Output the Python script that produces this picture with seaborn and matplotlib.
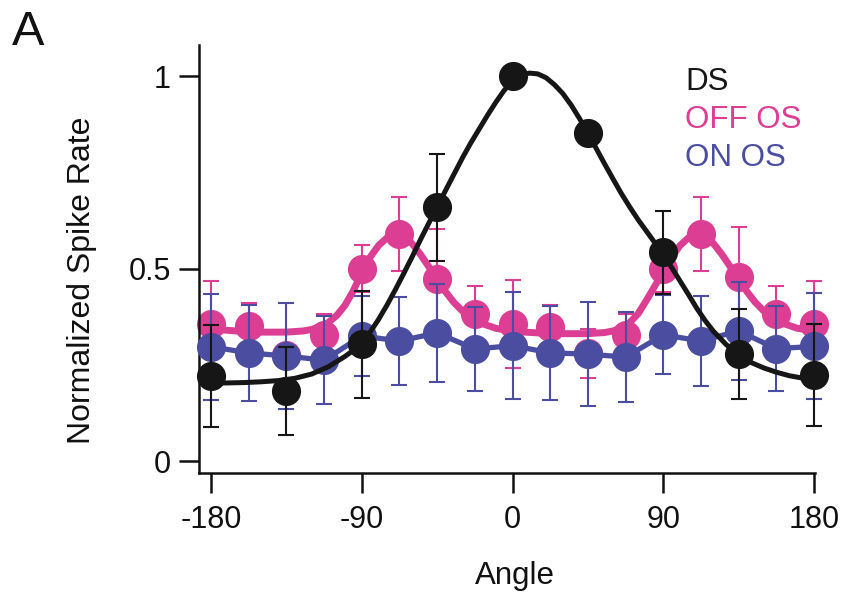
import matplotlib
matplotlib.use("Agg")
import matplotlib.pyplot as plt
import seaborn as sns
import pandas as pd

# ---------------- data ----------------
angles_ds = [-180, -135, -90, -45, 0, 45, 90, 135, 180]
ds_mean = [0.221, 0.182, 0.303, 0.659, 1.000, 0.852, 0.542, 0.278, 0.224]
ds_err = [0.133, 0.115, 0.140, 0.138, 0.000, 0.015, 0.107, 0.118, 0.133]

angles_os = [-180, -157.5, -135, -112.5, -90, -67.5, -45, -22.5, 0,
             22.5, 45, 67.5, 90, 112.5, 135, 157.5, 180]
off_mean = [0.356, 0.352, 0.275, 0.328, 0.500, 0.590, 0.474, 0.383, 0.356,
            0.349, 0.280, 0.328, 0.500, 0.590, 0.477, 0.383, 0.356]
off_err = [0.113, 0.058, 0.065, 0.055, 0.062, 0.095, 0.130, 0.073, 0.114,
           0.057, 0.064, 0.055, 0.062, 0.095, 0.130, 0.073, 0.113]
on_mean = [0.297, 0.281, 0.273, 0.262, 0.325, 0.312, 0.333, 0.291, 0.300,
           0.281, 0.278, 0.270, 0.328, 0.312, 0.338, 0.292, 0.298]
on_err = [0.138, 0.124, 0.137, 0.115, 0.103, 0.115, 0.127, 0.110, 0.139,
          0.123, 0.135, 0.117, 0.103, 0.116, 0.127, 0.110, 0.138]

# fitted curves
fit_ds_x = [-180, -170, -160, -150, -140, -130, -120, -110, -100, -95, -90,
            -85, -80, -75, -70, -65, -60, -55, -50, -45, -40, -35, -30, -25,
            -20, -15, -10, -5, 0, 5, 10, 15, 20, 25, 30, 35, 40, 45, 50, 55,
            60, 65, 70, 75, 80, 85, 90, 95, 100, 105, 110, 115, 120, 127.5,
            135, 142.5, 150, 157.5, 165, 172.5, 180]
fit_ds_y = [0.203, 0.203, 0.204, 0.206, 0.209, 0.215, 0.226, 0.245, 0.272,
            0.288, 0.307, 0.335, 0.368, 0.405, 0.445, 0.487, 0.530, 0.575,
            0.618, 0.660, 0.703, 0.745, 0.787, 0.826, 0.862, 0.898, 0.932,
            0.963, 0.988, 1.002, 1.008, 1.006, 0.996, 0.978, 0.955, 0.925,
            0.890, 0.852, 0.812, 0.772, 0.733, 0.695, 0.660, 0.627, 0.597,
            0.567, 0.536, 0.503, 0.468, 0.433, 0.397, 0.365, 0.337, 0.303,
            0.276, 0.256, 0.242, 0.231, 0.222, 0.216, 0.213]
fit_off_x = [-180, -165, -150, -135, -125, -120, -115, -110, -105, -100, -95,
             -90, -85, -80, -75, -70, -65, -60, -55, -50, -45, -40, -35, -30,
             -25, -20, -10, 0, 15, 30, 45, 55, 60, 65, 70, 75, 80, 85, 90, 95,
             100, 105, 110, 115, 120, 125, 130, 135, 140, 145, 150, 155, 160,
             170, 180]
fit_off_y = [0.343, 0.338, 0.335, 0.335, 0.338, 0.342, 0.349, 0.360, 0.378,
             0.405, 0.443, 0.490, 0.530, 0.560, 0.580, 0.590, 0.585, 0.565,
             0.537, 0.505, 0.472, 0.440, 0.412, 0.390, 0.373, 0.360, 0.345,
             0.337, 0.333, 0.331, 0.331, 0.334, 0.338, 0.346, 0.360, 0.383,
             0.418, 0.455, 0.492, 0.530, 0.560, 0.580, 0.590, 0.585, 0.565,
             0.537, 0.505, 0.474, 0.440, 0.412, 0.390, 0.373, 0.360, 0.345,
             0.338]

series_names = ["DS", "OFF OS", "ON OS"]
x_ticks = [-180, -90, 0, 90, 180]
y_ticks = [0, 0.5, 1]
y_tick_labels = ["0", "0.5", "1"]

# ---------------- style ----------------
sns.set_style("ticks")
plt.rcParams["font.family"] = ["Liberation Sans", "DejaVu Sans"]

BLACK = "#161616"
PINK = "#DC3E93"
BLUE = "#4A4DA0"

fig = plt.figure(figsize=(8.41, 5.94), dpi=100)
ax = fig.add_axes([199 / 841, 1 - 473 / 594, (815 - 199) / 841, (473 - 45) / 594])

df_off_fit = pd.DataFrame({"x": fit_off_x, "y": fit_off_y})
df_ds_fit = pd.DataFrame({"x": fit_ds_x, "y": fit_ds_y})
df_on = pd.DataFrame({"x": angles_os, "y": on_mean})
df_off = pd.DataFrame({"x": angles_os, "y": off_mean})
df_ds = pd.DataFrame({"x": angles_ds, "y": ds_mean})

msize = 440
ek = dict(fmt="none", elinewidth=1.5, capsize=5.8, capthick=1.5)

# OFF OS (bottom layer)
sns.lineplot(data=df_off_fit, x="x", y="y", color=PINK, linewidth=5.0, ax=ax,
             zorder=1)
sns.scatterplot(data=df_off, x="x", y="y", color=PINK, s=msize, linewidth=0,
                ax=ax, zorder=2)
ax.errorbar(angles_os, off_mean, yerr=off_err, ecolor=PINK, zorder=3, **ek)

# ON OS
sns.lineplot(data=df_on, x="x", y="y", color=BLUE, linewidth=3.8, ax=ax,
             zorder=4)
sns.scatterplot(data=df_on, x="x", y="y", color=BLUE, s=msize, linewidth=0,
                ax=ax, zorder=5)
ax.errorbar(angles_os, on_mean, yerr=on_err, ecolor=BLUE, zorder=6, **ek)

# DS (top layer)
sns.lineplot(data=df_ds_fit, x="x", y="y", color=BLACK, linewidth=3.6, ax=ax,
             zorder=7)
sns.scatterplot(data=df_ds, x="x", y="y", color=BLACK, s=msize, linewidth=0,
                ax=ax, zorder=8)
ax.errorbar(angles_ds, ds_mean, yerr=ds_err, ecolor=BLACK, zorder=9, **ek)

for art in list(ax.lines) + list(ax.collections):
    art.set_clip_on(False)
for ln in ax.lines:
    ln.set_solid_capstyle("round")
    ln.set_solid_joinstyle("round")

# ---------------- axes ----------------
ax.set_xlim(-187.2, 180.6)
ax.set_ylim(-0.031, 1.081)
ax.set_xticks(x_ticks)
ax.set_xticklabels([str(v) for v in x_ticks])
ax.set_yticks(y_ticks)
ax.set_yticklabels(y_tick_labels)
for s in ["top", "right"]:
    ax.spines[s].set_visible(False)
for s in ["left", "bottom"]:
    ax.spines[s].set_linewidth(1.8)
    ax.spines[s].set_color("#111111")
ax.tick_params(axis="both", direction="out", length=14.4, width=1.8,
               color="#111111", labelsize=22, labelcolor="#111111")
ax.tick_params(axis="x", pad=9)
ax.tick_params(axis="y", pad=6)

ax.set_xlabel("Angle", fontsize=22.5, color="#111111")
ax.set_ylabel("Normalized Spike Rate", fontsize=23, color="#111111")
ax.xaxis.set_label_coords(0.513, -0.205)
ax.yaxis.set_label_coords(-0.165, 0.45)

# legend as coloured text
fig.text(685 / 841, 1 - 90 / 594, series_names[0], color=BLACK, fontsize=22.5,
         va="baseline", ha="left")
fig.text(685 / 841, 1 - 128 / 594, series_names[1], color=PINK, fontsize=22.5,
         va="baseline", ha="left")
fig.text(685 / 841, 1 - 166 / 594, series_names[2], color=BLUE, fontsize=22.5,
         va="baseline", ha="left")

# panel letter
fig.text(12 / 841, 1 - 45 / 594, "A", color="#111111", fontsize=35,
         va="baseline", ha="left")

fig.savefig("out.png", dpi=100)
